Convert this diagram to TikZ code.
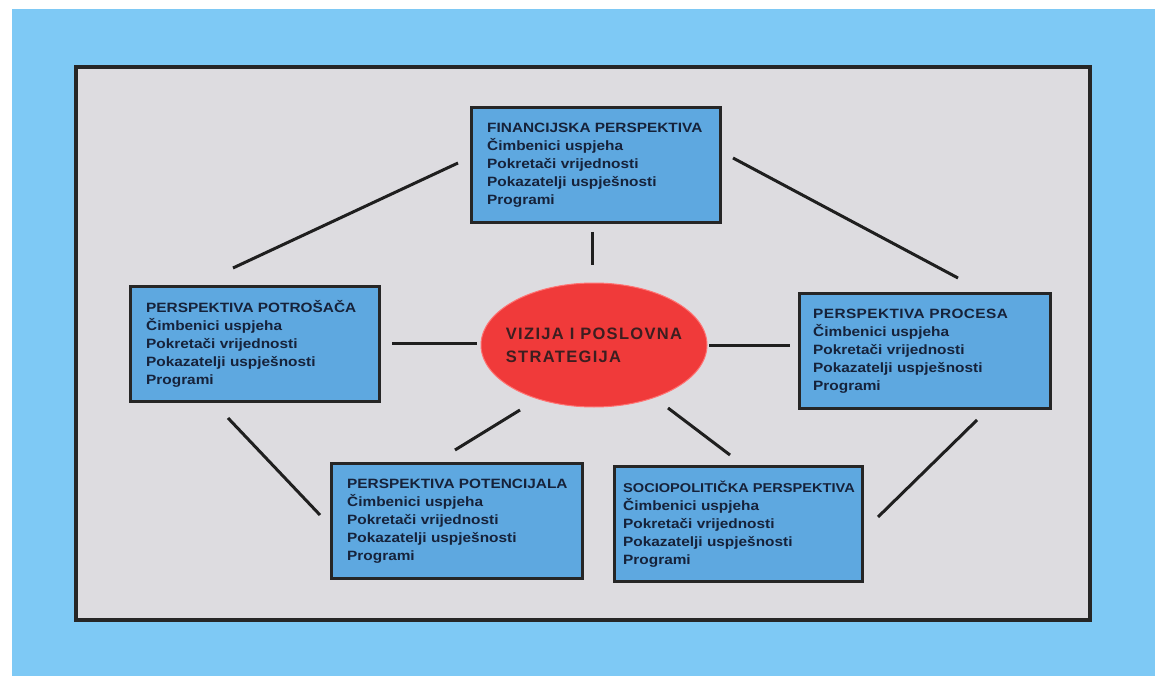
\documentclass[tikz,border=0pt]{standalone}
\usepackage{fontspec}
\setmainfont{Liberation Sans}
\usetikzlibrary{shapes.geometric}
\definecolor{bgblue}{RGB}{126,201,245}
\definecolor{panel}{RGB}{221,220,224}
\definecolor{boxblue}{RGB}{94,168,224}
\definecolor{boxtext}{RGB}{22,34,58}
\definecolor{ellred}{RGB}{240,58,58}
\definecolor{elltext}{RGB}{60,30,32}
\newfontfamily\boxfont[FakeStretch=1.14]{Liberation Sans}
\newfontfamily\ellfont[LetterSpace=8]{Liberation Sans}
\tikzset{
  pbox/.style={draw=black!85, line width=3pt, fill=boxblue, anchor=north west,
    minimum width=#1, minimum height=115pt, inner sep=0pt},
  ptext/.style={anchor=west, align=left, text=boxtext, inner sep=0pt,
    font=\boxfont\bfseries\fontsize{13.5}{18}\selectfont},
  link/.style={line width=3pt, draw=black!88}
}
\begin{document}
\begin{tikzpicture}[x=1pt,y=-1pt]
\useasboundingbox (0,0) rectangle (1155,676);
\fill[white] (0,0) rectangle (1155,676);
\fill[bgblue] (12,9) rectangle (1155,676);
\draw[line width=4pt, draw=black!85, fill=panel] (76,67) rectangle (1090,620);

\node[pbox=249pt] (fin) at (470,106) {};
\node[pbox=249pt] (pot) at (129,285) {};
\node[pbox=251pt] (pro) at (798,292) {};
\node[pbox=251pt] (pcj) at (330,462) {};
\node[pbox=248pt] (soc) at (613,465) {};

\node[ptext] (fin-t) at ([xshift=17pt]fin.west) {FINANCIJSKA PERSPEKTIVA\\Čimbenici uspjeha\\Pokretači vrijednosti\\Pokazatelji uspješnosti\\Programi};
\node[ptext] (pot-t) at ([xshift=17pt]pot.west) {PERSPEKTIVA POTROŠAČA\\Čimbenici uspjeha\\Pokretači vrijednosti\\Pokazatelji uspješnosti\\Programi};
\node[ptext] (pro-t) at ([xshift=15pt]pro.west) {\addfontfeatures{LetterSpace=3}PERSPEKTIVA PROCESA\\Čimbenici uspjeha\\Pokretači vrijednosti\\Pokazatelji uspješnosti\\Programi};
\node[ptext] (pcj-t) at ([xshift=17pt]pcj.west) {PERSPEKTIVA POTENCIJALA\\Čimbenici uspjeha\\Pokretači vrijednosti\\Pokazatelji uspješnosti\\Programi};
\node[ptext] (soc-t) at ([xshift=10pt]soc.west) {{\fontsize{12.8}{18}\selectfont SOCIOPOLITIČKA PERSPEKTIVA}\\Čimbenici uspjeha\\Pokretači vrijednosti\\Pokazatelji uspješnosti\\Programi};

\node[ellipse, fill=ellred, draw=red!40!pink, line width=1pt, minimum width=226pt, minimum height=124pt,
  align=left, text=elltext, font=\ellfont\bfseries\fontsize{16.5}{23}\selectfont, inner xsep=-9pt, inner ysep=0pt] (viz) at (594,345)
  {VIZIJA I POSLOVNA\\STRATEGIJA};

\coordinate (a1) at (233,268); \coordinate (a2) at (458,163);
\coordinate (b1) at (733,158); \coordinate (b2) at (958,278);
\coordinate (c1) at (592,232); \coordinate (c2) at (592,265);
\coordinate (d1) at (392,343); \coordinate (d2) at (477,343);
\coordinate (e1) at (709,345); \coordinate (e2) at (790,345);
\coordinate (f1) at (520,410); \coordinate (f2) at (455,450);
\coordinate (g1) at (668,408); \coordinate (g2) at (730,455);
\coordinate (h1) at (228,418); \coordinate (h2) at (320,515);
\coordinate (i1) at (977,420); \coordinate (i2) at (878,517);
\draw[link] (a1) -- (a2);
\draw[link] (b1) -- (b2);
\draw[link] (c1) -- (c2);
\draw[link] (d1) -- (d2);
\draw[link] (e1) -- (e2);
\draw[link] (f1) -- (f2);
\draw[link] (g1) -- (g2);
\draw[link] (h1) -- (h2);
\draw[link] (i1) -- (i2);
\end{tikzpicture}
\end{document}
